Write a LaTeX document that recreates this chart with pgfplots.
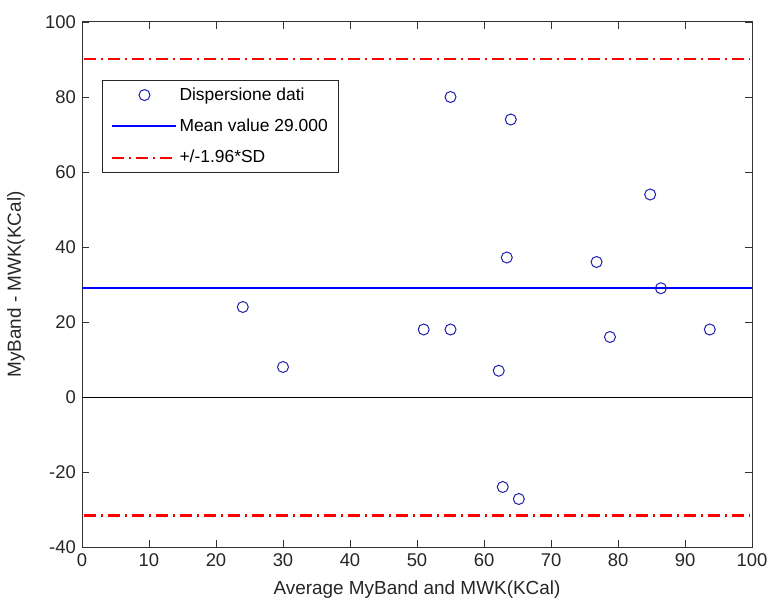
\documentclass[border=0pt]{standalone}
\usepackage{pgfplots}
\pgfplotsset{compat=1.18}
\usepackage{fontspec}
\setmainfont{Liberation Sans}
\definecolor{mblue}{RGB}{0,0,255}
\definecolor{mnavy}{RGB}{30,30,170}
\pgfplotsset{
  mymarklegend/.style={legend image code/.code={\draw[##1] plot coordinates {(32bp,0bp)};}},
  mylinelegend/.style={legend image code/.code={\draw[##1] (0bp,0bp) -- (64bp,0bp);}},
}
\begin{document}
\begin{tikzpicture}
\fontsize{18}{21}\selectfont
\useasboundingbox (-82bp,-56bp) rectangle (687bp,547bp);
\begin{axis}[
  scale only axis,
  width=670bp, height=525bp,
  at={(0,0)}, anchor=south west,
  xmin=0, xmax=100, ymin=-40, ymax=100,
  xtick={0,10,...,100}, ytick={-40,-20,...,100},
  tick align=inside,
  major tick length=7bp,
  axis line style={line width=1pt, black!80},
  every tick/.style={black!80, line width=0.8pt},
  /pgf/number format/assume math mode=true,
  tick label style={font=\fontsize{18.5}{21}\selectfont, color=black!85},
  label style={font=\fontsize{19}{22}\selectfont, color=black!85},
  xlabel={Average MyBand and MWK(KCal)},
  ylabel={MyBand - MWK(KCal)},
  xlabel style={yshift=-2bp},
  ylabel style={yshift=8bp},
  legend style={at={(0.0299,0.8895)}, anchor=north west, draw=black!85, line width=0.8pt,
    font=\fontsize{17.5}{20}\selectfont, row sep=12bp, inner xsep=9bp, inner ysep=5bp,
    cells={anchor=west, inner xsep=2bp}},
  legend cell align=left,
  clip=false,
]
\addplot[black, line width=1pt, forget plot] coordinates {(0,0) (100,0)};
\addplot[only marks, mark=o, mark size=5.5bp, mnavy, line width=1pt, mymarklegend] coordinates {
(24,24) (30,8) (51,18) (55,18) (55,80) (64,74) (63.4,37.2) (62.2,7)
(62.8,-24) (65.2,-27.2) (76.8,36) (78.8,16) (84.8,54) (86.4,29) (93.7,18)
};
\addlegendentry{Dispersione dati}
\addplot[mblue, line width=2pt, mylinelegend] coordinates {(0,29) (100,29)};
\addlegendentry{Mean value 29.000}
\addplot[draw=red, color=red, line width=2.1pt, dash pattern=on 12bp off 5bp on 2bp off 5bp, mylinelegend] coordinates {(0.3,90.1) (99.7,90.1)};
\addlegendentry{+/-1.96*SD}
\addplot[draw=red, color=red, line width=2.1pt, dash pattern=on 12bp off 5bp on 2bp off 5bp, forget plot] coordinates {(0.3,-31.6) (99.7,-31.6)};
\end{axis}
\end{tikzpicture}
\end{document}
